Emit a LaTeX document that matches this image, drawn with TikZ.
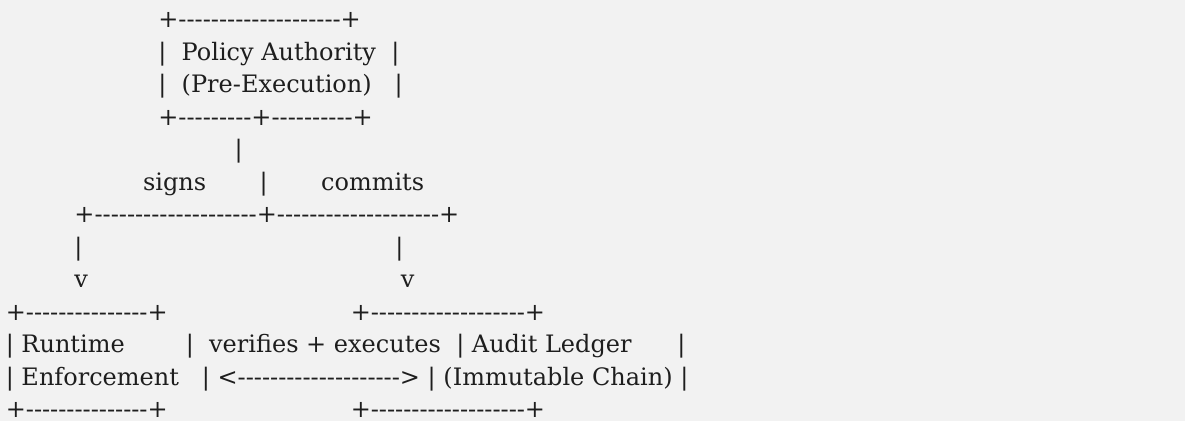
\documentclass[tikz,border=0pt]{standalone}
\usepackage{fontspec}
\newfontfamily\asciiserif{DejaVu Serif}
\definecolor{pagebg}{HTML}{F2F2F2}
\definecolor{ink}{HTML}{1E1E1E}
% a run of n interword spaces of the current font
\newcommand\sgap[1]{\hspace*{#1\fontdimen2\font}}
\tikzset{
  row/.style={anchor=base west, inner sep=0pt, outer sep=0pt, text=ink,
    font=\asciiserif\fontsize{24}{24}\selectfont}
}
\begin{document}
\begin{tikzpicture}[x=1pt,y=1pt]
\fill[pagebg] (0,0) rectangle (1185,-421);
\useasboundingbox (0,0) rectangle (1185,-421);
% one node per text row, 32.5 units apart
\node[row] (l1)  at (5.8,-27.5) {\sgap{20}+--------------------+};
\node[row] (l2)  at (5.8,-60.0) {\sgap{20}|~~Policy Authority~~|};
\node[row] (l3)  at (5.8,-92.5) {\sgap{20}|~~(Pre-Execution)~~~|};
\node[row] (l4)  at (5.8,-125.0) {\sgap{20}+---------+----------+};
\node[row] (l5)  at (5.8,-157.5) {\sgap{30}|};
\node[row] (l6)  at (5.8,-190.0) {\sgap{18}signs\sgap{7}|\sgap{7}commits};
\node[row] (l7)  at (5.8,-222.5) {\sgap{9}+--------------------+--------------------+};
\node[row] (l8)  at (5.8,-255.0) {\sgap{9}|\sgap{41}|};
\node[row] (l9)  at (5.8,-287.5) {\sgap{9}v\sgap{41}v};
\node[row] (l10) at (5.8,-320.0) {+---------------+\sgap{24}+-------------------+};
\node[row] (l11) at (5.8,-352.5) {|~Runtime\sgap{8}|~~verifies + executes~~|~Audit Ledger\sgap{6}|};
\node[row] (l12) at (5.8,-385.0) {|~Enforcement\sgap{3}|~<-------------------->~|~(Immutable Chain)~|};
\node[row] (l13) at (5.8,-417.5) {+---------------+\sgap{24}+-------------------+};
\end{tikzpicture}
\end{document}
